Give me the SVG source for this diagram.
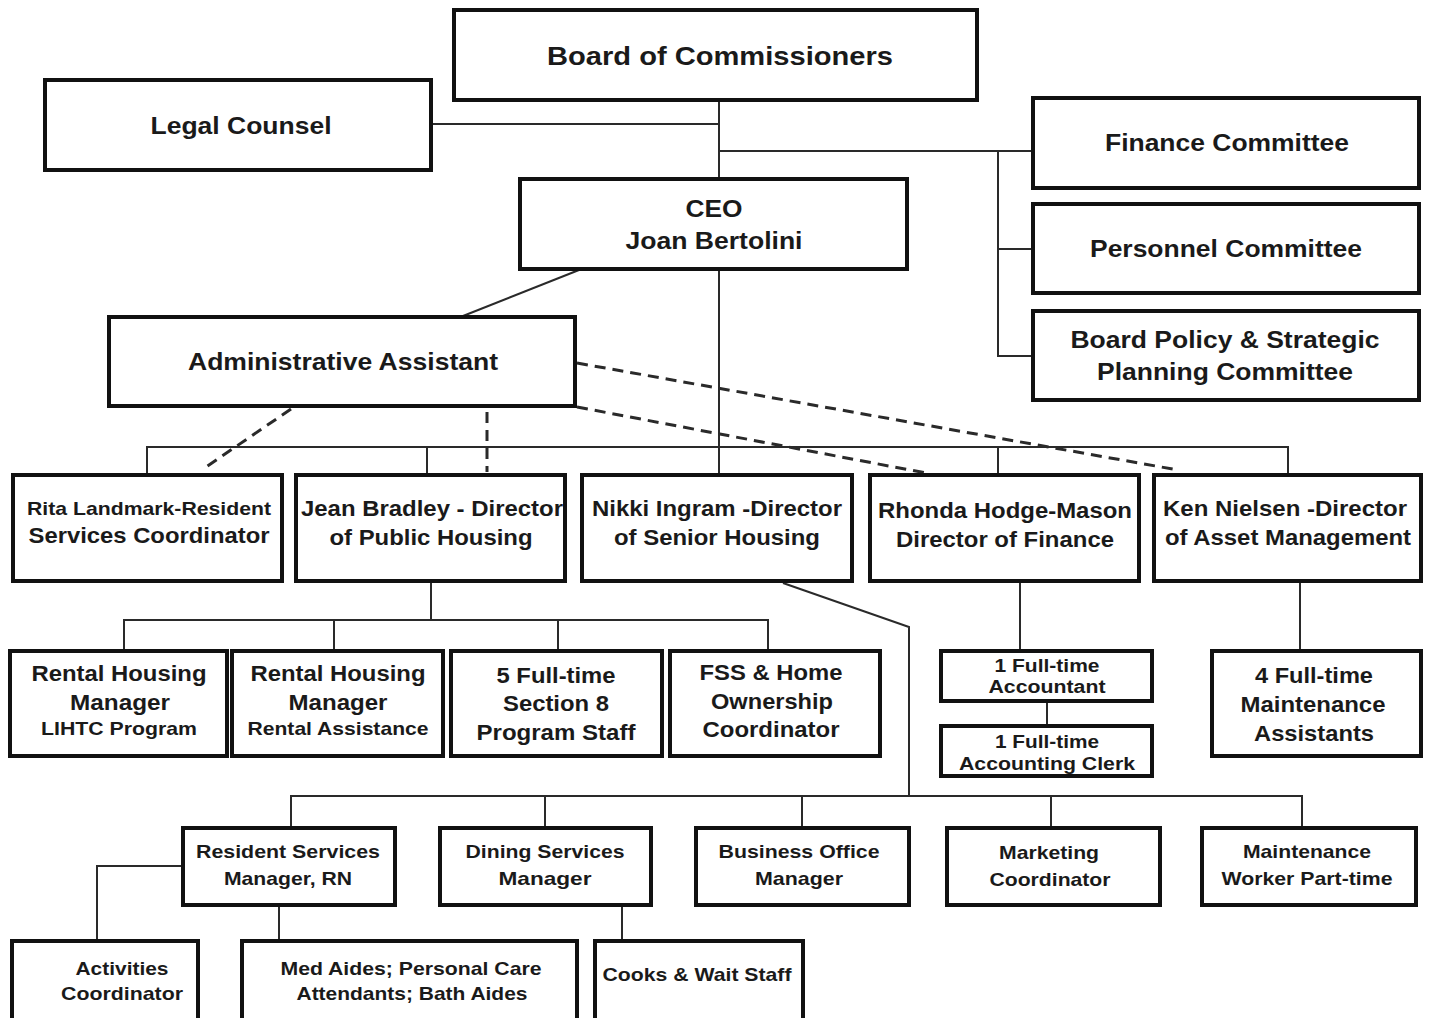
<svg xmlns="http://www.w3.org/2000/svg" width="1430" height="1018" viewBox="0 0 1430 1018">
  <style>
    .box { fill: #ffffff; stroke: #111111; stroke-width: 4; }
    .t { font-family: "Liberation Sans", Arial, Helvetica, sans-serif; font-weight: bold; text-anchor: middle; fill: #1a1a1a; }
    .ln { fill: none; stroke: #2a2a2a; stroke-width: 2; }
    .dash { fill: none; stroke: #2a2a2a; stroke-width: 3; stroke-dasharray: 11 7; }
  </style>
  <rect width="1430" height="1018" fill="#ffffff"/>

  <!-- reporting lines -->
  <g id="connectors">
    <!-- board to CEO, legal counsel, committees -->
    <path class="ln" d="M719 100 V178"/>
    <path class="ln" d="M431 124 H719"/>
    <path class="ln" d="M719 151 H1032"/>
    <path class="ln" d="M998 151 V356 H1032"/>
    <path class="ln" d="M998 249 H1032"/>
    <!-- CEO to administrative assistant -->
    <path class="ln" d="M579 270 L463 316"/>
    <!-- CEO to directors -->
    <path class="ln" d="M719 269 V474"/>
    <path class="ln" d="M147 474 V447 H1288 V474"/>
    <path class="ln" d="M427 447 V474"/>
    <path class="ln" d="M998 447 V474"/>
    <!-- dotted-line support from administrative assistant -->
    <path class="dash" d="M291 409 L203 469"/>
    <path class="dash" d="M487 412 V472"/>
    <path class="dash" d="M577 407 L926 473"/>
    <path class="dash" d="M577 363 L1178 470"/>
    <!-- public housing -->
    <path class="ln" d="M431 581 V620"/>
    <path class="ln" d="M124 650 V620 H768 V650"/>
    <path class="ln" d="M334 620 V650"/>
    <path class="ln" d="M558 620 V650"/>
    <!-- senior housing -->
    <path class="ln" d="M783 583 L909 627 V796"/>
    <path class="ln" d="M291 827 V796 H1302 V827"/>
    <path class="ln" d="M545 796 V827"/>
    <path class="ln" d="M802 796 V827"/>
    <path class="ln" d="M1051 796 V827"/>
    <path class="ln" d="M182 866 H97 V940"/>
    <path class="ln" d="M279 905 V940"/>
    <path class="ln" d="M622 905 V940"/>
    <!-- finance -->
    <path class="ln" d="M1020 581 V650"/>
    <path class="ln" d="M1047 701 V726"/>
    <!-- asset management -->
    <path class="ln" d="M1300 581 V650"/>
  </g>

  <g id="board">
    <rect class="box" x="454" y="10" width="523" height="90"/>
    <text class="t" x="720" y="65" font-size="26" textLength="346" lengthAdjust="spacingAndGlyphs">Board of Commissioners</text>
  </g>
  <g id="legal-counsel">
    <rect class="box" x="45" y="80" width="386" height="90"/>
    <text class="t" x="241" y="134" font-size="24" textLength="181" lengthAdjust="spacingAndGlyphs">Legal Counsel</text>
  </g>
  <g id="finance-committee">
    <rect class="box" x="1033" y="98" width="386" height="90"/>
    <text class="t" x="1227" y="151" font-size="24" textLength="244" lengthAdjust="spacingAndGlyphs">Finance Committee</text>
  </g>
  <g id="personnel-committee">
    <rect class="box" x="1033" y="204" width="386" height="89"/>
    <text class="t" x="1226" y="257" font-size="24" textLength="272" lengthAdjust="spacingAndGlyphs">Personnel Committee</text>
  </g>
  <g id="policy-committee">
    <rect class="box" x="1033" y="311" width="386" height="89"/>
    <text class="t" x="1225" y="348" font-size="24" textLength="309" lengthAdjust="spacingAndGlyphs">Board Policy &amp; Strategic</text>
    <text class="t" x="1225" y="380" font-size="24" textLength="256" lengthAdjust="spacingAndGlyphs">Planning Committee</text>
  </g>
  <g id="ceo">
    <rect class="box" x="520" y="179" width="387" height="90"/>
    <text class="t" x="714" y="217" font-size="24" textLength="57" lengthAdjust="spacingAndGlyphs">CEO</text>
    <text class="t" x="714" y="249" font-size="24" textLength="177" lengthAdjust="spacingAndGlyphs">Joan Bertolini</text>
  </g>
  <g id="admin-assistant">
    <rect class="box" x="109" y="317" width="466" height="89"/>
    <text class="t" x="343" y="370" font-size="24" textLength="310" lengthAdjust="spacingAndGlyphs">Administrative Assistant</text>
  </g>

  <g id="rita-landmark">
    <rect class="box" x="13" y="475" width="269" height="106"/>
    <text class="t" x="149" y="515" font-size="19" textLength="244" lengthAdjust="spacingAndGlyphs">Rita Landmark-Resident</text>
    <text class="t" x="149" y="543" font-size="22" textLength="241" lengthAdjust="spacingAndGlyphs">Services Coordinator</text>
  </g>
  <g id="jean-bradley">
    <rect class="box" x="296" y="475" width="269" height="106"/>
    <text class="t" x="432" y="516" font-size="22" textLength="262" lengthAdjust="spacingAndGlyphs">Jean Bradley - Director</text>
    <text class="t" x="431" y="545" font-size="22" textLength="203" lengthAdjust="spacingAndGlyphs">of Public Housing</text>
  </g>
  <g id="nikki-ingram">
    <rect class="box" x="582" y="475" width="270" height="106"/>
    <text class="t" x="717" y="516" font-size="22" textLength="250" lengthAdjust="spacingAndGlyphs">Nikki Ingram -Director</text>
    <text class="t" x="717" y="545" font-size="22" textLength="206" lengthAdjust="spacingAndGlyphs">of Senior Housing</text>
  </g>
  <g id="rhonda-hodge-mason">
    <rect class="box" x="870" y="475" width="269" height="106"/>
    <text class="t" x="1005" y="518" font-size="22" textLength="254" lengthAdjust="spacingAndGlyphs">Rhonda Hodge-Mason</text>
    <text class="t" x="1005" y="547" font-size="22" textLength="218" lengthAdjust="spacingAndGlyphs">Director of Finance</text>
  </g>
  <g id="ken-nielsen">
    <rect class="box" x="1154" y="475" width="267" height="106"/>
    <text class="t" x="1285" y="516" font-size="22" textLength="244" lengthAdjust="spacingAndGlyphs">Ken Nielsen -Director</text>
    <text class="t" x="1288" y="545" font-size="22" textLength="246" lengthAdjust="spacingAndGlyphs">of Asset Management</text>
  </g>

  <g id="rental-lihtc">
    <rect class="box" x="10" y="651" width="217" height="105"/>
    <text class="t" x="119" y="681" font-size="22" textLength="175" lengthAdjust="spacingAndGlyphs">Rental Housing</text>
    <text class="t" x="120" y="710" font-size="22" textLength="100" lengthAdjust="spacingAndGlyphs">Manager</text>
    <text class="t" x="119" y="735" font-size="19" textLength="156" lengthAdjust="spacingAndGlyphs">LIHTC Program</text>
  </g>
  <g id="rental-assistance">
    <rect class="box" x="232" y="651" width="211" height="105"/>
    <text class="t" x="338" y="681" font-size="22" textLength="175" lengthAdjust="spacingAndGlyphs">Rental Housing</text>
    <text class="t" x="338" y="710" font-size="22" textLength="99" lengthAdjust="spacingAndGlyphs">Manager</text>
    <text class="t" x="338" y="735" font-size="19" textLength="181" lengthAdjust="spacingAndGlyphs">Rental Assistance</text>
  </g>
  <g id="section-8-staff">
    <rect class="box" x="451" y="651" width="211" height="105"/>
    <text class="t" x="556" y="683" font-size="22" textLength="119" lengthAdjust="spacingAndGlyphs">5 Full-time</text>
    <text class="t" x="556" y="711" font-size="22" textLength="106" lengthAdjust="spacingAndGlyphs">Section 8</text>
    <text class="t" x="556" y="740" font-size="22" textLength="159" lengthAdjust="spacingAndGlyphs">Program Staff</text>
  </g>
  <g id="fss-coordinator">
    <rect class="box" x="670" y="651" width="210" height="105"/>
    <text class="t" x="771" y="680" font-size="22" textLength="143" lengthAdjust="spacingAndGlyphs">FSS &amp; Home</text>
    <text class="t" x="772" y="709" font-size="22" textLength="122" lengthAdjust="spacingAndGlyphs">Ownership</text>
    <text class="t" x="771" y="737" font-size="22" textLength="137" lengthAdjust="spacingAndGlyphs">Coordinator</text>
  </g>

  <g id="accountant">
    <rect class="box" x="941" y="651" width="211" height="50"/>
    <text class="t" x="1047" y="672" font-size="18" textLength="105" lengthAdjust="spacingAndGlyphs">1 Full-time</text>
    <text class="t" x="1047" y="693" font-size="18" textLength="117" lengthAdjust="spacingAndGlyphs">Accountant</text>
  </g>
  <g id="accounting-clerk">
    <rect class="box" x="941" y="726" width="211" height="50"/>
    <text class="t" x="1047" y="748" font-size="18" textLength="104" lengthAdjust="spacingAndGlyphs">1 Full-time</text>
    <text class="t" x="1047" y="770" font-size="18" textLength="176" lengthAdjust="spacingAndGlyphs">Accounting Clerk</text>
  </g>
  <g id="maintenance-assistants">
    <rect class="box" x="1212" y="651" width="209" height="105"/>
    <text class="t" x="1314" y="683" font-size="22" textLength="118" lengthAdjust="spacingAndGlyphs">4 Full-time</text>
    <text class="t" x="1313" y="712" font-size="22" textLength="145" lengthAdjust="spacingAndGlyphs">Maintenance</text>
    <text class="t" x="1314" y="741" font-size="22" textLength="120" lengthAdjust="spacingAndGlyphs">Assistants</text>
  </g>

  <g id="resident-services-manager">
    <rect class="box" x="183" y="828" width="212" height="77"/>
    <text class="t" x="288" y="858" font-size="19" textLength="184" lengthAdjust="spacingAndGlyphs">Resident Services</text>
    <text class="t" x="288" y="885" font-size="19" textLength="128" lengthAdjust="spacingAndGlyphs">Manager, RN</text>
  </g>
  <g id="dining-services-manager">
    <rect class="box" x="440" y="828" width="211" height="77"/>
    <text class="t" x="545" y="858" font-size="19" textLength="159" lengthAdjust="spacingAndGlyphs">Dining Services</text>
    <text class="t" x="545" y="885" font-size="19" textLength="93" lengthAdjust="spacingAndGlyphs">Manager</text>
  </g>
  <g id="business-office-manager">
    <rect class="box" x="696" y="828" width="213" height="77"/>
    <text class="t" x="799" y="858" font-size="19" textLength="161" lengthAdjust="spacingAndGlyphs">Business Office</text>
    <text class="t" x="799" y="885" font-size="19" textLength="88" lengthAdjust="spacingAndGlyphs">Manager</text>
  </g>
  <g id="marketing-coordinator">
    <rect class="box" x="947" y="828" width="213" height="77"/>
    <text class="t" x="1049" y="859" font-size="19" textLength="100" lengthAdjust="spacingAndGlyphs">Marketing</text>
    <text class="t" x="1050" y="886" font-size="19" textLength="121" lengthAdjust="spacingAndGlyphs">Coordinator</text>
  </g>
  <g id="maintenance-worker">
    <rect class="box" x="1202" y="828" width="214" height="77"/>
    <text class="t" x="1307" y="858" font-size="19" textLength="128" lengthAdjust="spacingAndGlyphs">Maintenance</text>
    <text class="t" x="1307" y="885" font-size="19" textLength="171" lengthAdjust="spacingAndGlyphs">Worker Part-time</text>
  </g>

  <g id="activities-coordinator">
    <rect class="box" x="12" y="941" width="186" height="80"/>
    <text class="t" x="122" y="975" font-size="19" textLength="93" lengthAdjust="spacingAndGlyphs">Activities</text>
    <text class="t" x="122" y="1000" font-size="19" textLength="122" lengthAdjust="spacingAndGlyphs">Coordinator</text>
  </g>
  <g id="care-aides">
    <rect class="box" x="242" y="941" width="335" height="80"/>
    <text class="t" x="411" y="975" font-size="19" textLength="261" lengthAdjust="spacingAndGlyphs">Med Aides; Personal Care</text>
    <text class="t" x="412" y="1000" font-size="19" textLength="231" lengthAdjust="spacingAndGlyphs">Attendants; Bath Aides</text>
  </g>
  <g id="cooks-wait-staff">
    <rect class="box" x="595" y="941" width="208" height="80"/>
    <text class="t" x="697" y="981" font-size="19" textLength="189" lengthAdjust="spacingAndGlyphs">Cooks &amp; Wait Staff</text>
  </g>
</svg>
